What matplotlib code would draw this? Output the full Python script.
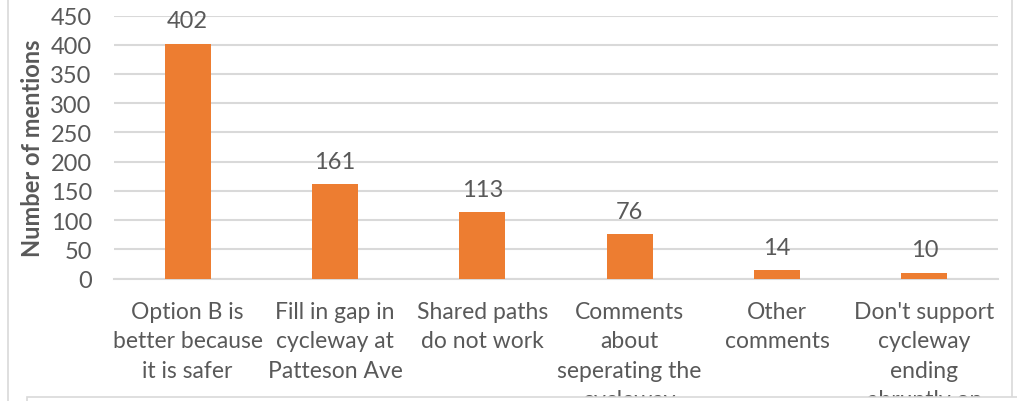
import matplotlib
matplotlib.use("Agg")
import matplotlib.pyplot as plt
from matplotlib.patches import Rectangle

categories = [
    "Option B is\nbetter because\nit is safer",
    "Fill in gap in\ncycleway at\nPatteson Ave",
    "Shared paths\ndo not work",
    "Comments\nabout\nseperating the\ncycleway",
    "Other\ncomments",
    "Don't support\ncycleway\nending\nabruptly on",
]
mentions = [402, 161, 113, 76, 14, 10]
yticks = [0, 50, 100, 150, 200, 250, 300, 350, 400, 450]

bar_color = "#ED7D31"
text_color = "#595959"
grid_color = "#D9D9D9"

plt.rcParams["font.family"] = ["Lato", "DejaVu Sans"]

W, H = 1017, 402
fig = plt.figure(figsize=(W / 100, H / 100), dpi=100)
ax = fig.add_axes([114 / W, 1 - 279.5 / H, (998 - 114) / W, (279.5 - 16.5) / H])

x = range(len(mentions))
bars = ax.bar(x, mentions, width=0.31, color=bar_color, zorder=3)
ax.bar_label(bars, labels=[str(v) for v in mentions], padding=9,
             fontsize=17, color=text_color)

ax.set_xlim(-0.5, len(mentions) - 0.5)
ax.set_ylim(0, 450)
ax.set_yticks(yticks)
ax.yaxis.grid(True, color=grid_color, linewidth=1.5, zorder=0)
ax.set_axisbelow(True)
for side in ["top", "right", "left"]:
    ax.spines[side].set_visible(False)
ax.spines["bottom"].set_color(grid_color)
ax.spines["bottom"].set_linewidth(1.5)

ax.set_xticks(list(x))
ax.set_xticklabels(categories, fontsize=16.5, color=text_color, linespacing=1.5,
                   va="top")
ax.tick_params(axis="x", length=0, pad=16)
ax.tick_params(axis="y", length=0, pad=16, labelsize=17, labelcolor=text_color)

fig.text(33 / W, 1 - 148 / H, "Number of mentions", rotation=90,
         ha="center", va="center", fontsize=17, fontweight="bold",
         color=text_color)

# chart border and the overlapping box at the bottom
fig.add_artist(plt.Line2D([7.5 / W, 7.5 / W], [0, 1], color=grid_color,
                          linewidth=1.2, transform=fig.transFigure))
fig.add_artist(plt.Line2D([1011.5 / W, 1011.5 / W], [0, 1], color=grid_color,
                          linewidth=1.2, transform=fig.transFigure))
fig.add_artist(Rectangle((27 / W, -0.05), 1.1, (402 - 398) / H + 0.05,
                         transform=fig.transFigure, facecolor="white",
                         edgecolor=grid_color, linewidth=1.2, zorder=10))

fig.savefig("out.png", dpi=100)
